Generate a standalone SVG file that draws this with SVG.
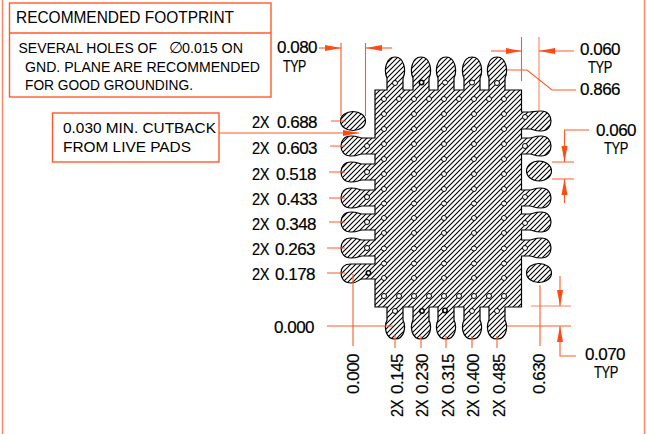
<svg xmlns="http://www.w3.org/2000/svg" width="648" height="434" viewBox="0 0 648 434">
<style>
text{font-family:"Liberation Sans",Arial,sans-serif;fill:#000}
.d{font-size:17px;letter-spacing:-.5px;stroke:#000;stroke-width:.2}
.b{font-size:15px}
.o{fill:none;stroke:#ff5a2a;stroke-width:1.1}
.box{fill:none;stroke:#ff5a2a;stroke-width:1.4}
.h{fill:#fff;stroke:#000;stroke-width:1}
.k{fill:#fff;stroke:#000;stroke-width:1.6}
.p{fill:url(#hatch);stroke:#000;stroke-width:1.2}
</style>
<defs>
<pattern id="hatch" patternUnits="userSpaceOnUse" width="5" height="5">
<rect width="5" height="5" fill="#fff"/><path d="M-1 6L6 -1M-1 1L1 -1M4 6L6 4" fill="none" stroke="#000" stroke-width="1.1"/>
</pattern>
<marker id="a" markerUnits="userSpaceOnUse" markerWidth="17" markerHeight="8" refX="16" refY="4" orient="auto"><path d="M0 1 L16 4 L0 7Z" fill="#ff4a14"/></marker>
</defs>
<g id="frame"><path d="M2.5 0V434M644.5 0V434" fill="none" stroke="#ff8a66" stroke-width="1.5"/></g>
<g id="note-footprint">
<rect class="box" x="9.5" y="3" width="261.5" height="94"/><path class="box" d="M9.5 33H271"/>
<text x="16" y="23" font-size="16" textLength="218" lengthAdjust="spacingAndGlyphs">RECOMMENDED FOOTPRINT</text>
<text class="b" x="18.5" y="53" textLength="138.5" lengthAdjust="spacingAndGlyphs">SEVERAL HOLES OF</text>
<text class="b" y="53"><tspan x="169" style="font-family:'DejaVu Sans',sans-serif" font-size="16">∅</tspan><tspan x="182" textLength="61" lengthAdjust="spacingAndGlyphs">0.015 ON</tspan></text>
<text class="b" x="25" y="72" textLength="235" lengthAdjust="spacingAndGlyphs">GND. PLANE ARE RECOMMENDED</text>
<text class="b" x="25" y="90" textLength="168" lengthAdjust="spacingAndGlyphs">FOR GOOD GROUNDING.</text>
</g>
<g id="note-cutback">
<rect class="box" x="52.5" y="113" width="166.5" height="49"/>
<text class="b" x="63" y="133" font-size="15.5" textLength="153" lengthAdjust="spacingAndGlyphs">0.030 MIN. CUTBACK</text>
<text class="b" x="63" y="152" font-size="15.5" textLength="128" lengthAdjust="spacingAndGlyphs">FROM LIVE PADS</text>
</g>
<g id="footprint">
<path class="p" d="M375 90
H387V78C384 72 385 57 395 57C405 57 406 72 403 78V90
H413V78C410 72 411 57 421 57C431 57 432 72 429 78V90
H438V78C435 72 436 57 446 57C456 57 457 72 454 78V90
H464V78C461 72 462 57 472 57C482 57 483 72 480 78V90
H489V78C486 72 487 57 497 57C507 57 508 72 505 78V90
H521.5
V112H530C533 112 534 111 541 111C548 111 551 116 551 121C551 126 548 131 541 131C534 131 533 129 530 129H521.5
V138H530C533 138 534 136 541 136C548 136 551 141 551 146C551 151 548 156 541 156C534 156 533 154 530 154H521.5
V190H530C533 190 534 188 541 188C548 188 551 193 551 198C551 203 548 208 541 208C534 208 533 206 530 206H521.5
V214H530C533 214 534 212 541 212C548 212 551 217 551 222C551 227 548 232 541 232C534 232 533 230 530 230H521.5
V240H530C533 240 534 238 541 238C548 238 551 243 551 248C551 253 548 258 541 258C534 258 533 256 530 256H521.5
V307
H505V320C508 326 507 339 497 339C487 339 486 326 489 320V307
H480V320C483 326 482 339 472 339C462 339 461 326 464 320V307
H454V320C457 326 456 339 446 339C436 339 435 326 438 320V307
H429V320C432 326 431 339 421 339C411 339 410 326 413 320V307
H403V320C406 326 405 339 395 339C385 339 384 326 387 320V307
H375
V279H362C359 279 358 283 351 283C344 283 341 278 341 273C341 268 344 264 351 264C358 264 359 264 362 264H375
V256H362C359 256 358 258 351 258C344 258 341 253 341 248C341 243 344 238 351 238C358 238 359 240 362 240H375
V230H362C359 230 358 232 351 232C344 232 341 227 341 222C341 217 344 212 351 212C358 212 359 214 362 214H375
V206H362C359 206 358 208 351 208C344 208 341 203 341 198C341 193 344 188 351 188C358 188 359 190 362 190H375
V180H362C359 180 358 182 351 182C344 182 341 177 341 172C341 167 344 162 351 162C358 162 359 164 362 164H375
V154H362C359 154 358 156 351 156C344 156 341 151 341 146C341 141 344 136 351 136C358 136 359 138 362 138H375Z"/>
<ellipse class="p" cx="353" cy="121" rx="12.5" ry="9.5"/>
<ellipse class="p" cx="539" cy="171" rx="12.5" ry="10" stroke-width="1.6"/>
<ellipse class="p" cx="539" cy="273" rx="12.5" ry="9.5" stroke-width="1.6"/>
</g>
<g id="holes">
<g class="h">
<circle cx="384" cy="99" r="2.5"/><circle cx="399" cy="99" r="2.5"/><circle cx="414" cy="99" r="2.5"/><circle cx="429" cy="99" r="2.5"/><circle cx="444" cy="99" r="2.5"/><circle cx="459" cy="99" r="2.5"/><circle cx="474" cy="99" r="2.5"/><circle cx="489" cy="99" r="2.5"/><circle cx="504" cy="99" r="2.5"/>
<circle cx="384" cy="296" r="2.5"/><circle cx="399" cy="296" r="2.5"/><circle cx="414" cy="296" r="2.5"/><circle cx="429" cy="296" r="2.5"/><circle cx="444" cy="296" r="2.5"/><circle cx="459" cy="296" r="2.5"/><circle cx="474" cy="296" r="2.5"/><circle cx="489" cy="296" r="2.5"/><circle cx="504" cy="296" r="2.5"/>
<circle cx="384" cy="114" r="2.5"/><circle cx="414" cy="114" r="2.5"/><circle cx="444" cy="114" r="2.5"/><circle cx="474" cy="114" r="2.5"/><circle cx="504" cy="114" r="2.5"/>
<circle cx="384" cy="129" r="2.5"/><circle cx="414" cy="129" r="2.5"/><circle cx="444" cy="129" r="2.5"/><circle cx="474" cy="129" r="2.5"/><circle cx="504" cy="129" r="2.5"/>
<circle cx="384" cy="144" r="2.5"/><circle cx="414" cy="144" r="2.5"/><circle cx="444" cy="144" r="2.5"/><circle cx="474" cy="144" r="2.5"/><circle cx="504" cy="144" r="2.5"/>
<circle cx="384" cy="159" r="2.5"/><circle cx="414" cy="159" r="2.5"/><circle cx="444" cy="159" r="2.5"/><circle cx="474" cy="159" r="2.5"/><circle cx="504" cy="159" r="2.5"/>
<circle cx="384" cy="174" r="2.5"/><circle cx="414" cy="174" r="2.5"/><circle cx="444" cy="174" r="2.5"/><circle cx="474" cy="174" r="2.5"/><circle cx="504" cy="174" r="2.5"/>
<circle cx="384" cy="189" r="2.5"/><circle cx="414" cy="189" r="2.5"/><circle cx="444" cy="189" r="2.5"/><circle cx="474" cy="189" r="2.5"/><circle cx="504" cy="189" r="2.5"/>
<circle cx="384" cy="203.5" r="2.5"/><circle cx="414" cy="203.5" r="2.5"/><circle cx="444" cy="203.5" r="2.5"/><circle cx="474" cy="203.5" r="2.5"/><circle cx="504" cy="203.5" r="2.5"/>
<circle cx="384" cy="218" r="2.5"/><circle cx="414" cy="218" r="2.5"/><circle cx="444" cy="218" r="2.5"/><circle cx="474" cy="218" r="2.5"/><circle cx="504" cy="218" r="2.5"/>
<circle cx="384" cy="233" r="2.5"/><circle cx="414" cy="233" r="2.5"/><circle cx="444" cy="233" r="2.5"/><circle cx="474" cy="233" r="2.5"/><circle cx="504" cy="233" r="2.5"/>
<circle cx="384" cy="248.5" r="2.5"/><circle cx="414" cy="248.5" r="2.5"/><circle cx="444" cy="248.5" r="2.5"/><circle cx="474" cy="248.5" r="2.5"/><circle cx="504" cy="248.5" r="2.5"/>
<circle cx="384" cy="263.5" r="2.5"/><circle cx="414" cy="263.5" r="2.5"/><circle cx="444" cy="263.5" r="2.5"/><circle cx="474" cy="263.5" r="2.5"/><circle cx="504" cy="263.5" r="2.5"/>
<circle cx="384" cy="278" r="2.5"/><circle cx="414" cy="278" r="2.5"/><circle cx="444" cy="278" r="2.5"/><circle cx="474" cy="278" r="2.5"/><circle cx="504" cy="278" r="2.5"/>
<circle cx="367" cy="146" r="2.5"/><circle cx="367" cy="172" r="2.5"/><circle cx="367" cy="197" r="2.5"/><circle cx="367" cy="222" r="2.5"/><circle cx="367" cy="248" r="2.5"/>
<circle cx="525" cy="117" r="2.5"/><circle cx="525" cy="146" r="2.5"/><circle cx="525" cy="197" r="2.5"/><circle cx="525" cy="223" r="2.5"/><circle cx="525" cy="248" r="2.5"/>
<circle cx="395" cy="83" r="2.5"/><circle cx="445" cy="82.5" r="2.5"/><circle cx="472" cy="82.5" r="2.5"/><circle cx="497" cy="83" r="2.5"/>
<circle cx="395" cy="311" r="2.5"/><circle cx="472" cy="311" r="2.5"/><circle cx="497" cy="311" r="2.5"/>
</g>
<g class="k"><circle cx="368.500" cy="273" r="2.2"/><circle cx="421.500" cy="82.500" r="2.2"/><circle cx="422" cy="311" r="2.2"/><circle cx="445" cy="310.500" r="2.200"/></g>
</g>
<g id="connectors">
<path class="o" d="M319 48H341" marker-end="url(#a)"/>
<path class="o" d="M392 48H366" marker-end="url(#a)"/>
<path class="o" d="M341 43V116M365.500 43V116"/>
<path class="o" d="M491 51H521.500" marker-end="url(#a)"/>
<path class="o" d="M574 51H539" marker-end="url(#a)"/>
<path class="o" d="M521.500 37V81"/>
<path class="o" d="M539 37V112" stroke-opacity=".75" stroke-width="1.500"/>
<path class="o" d="M507 70H527L552 90H576"/>
<path class="o" d="M219 133H359" marker-end="url(#a)"/>
<path class="o" d="M589 130H564.500V162" marker-end="url(#a)"/>
<path class="o" d="M564.500 203V179" marker-end="url(#a)"/>
<path class="o" d="M552 162H574M552 179H574"/>
<path class="o" d="M560 276V306" marker-end="url(#a)"/>
<path class="o" d="M576 356L560 356V326" marker-end="url(#a)"/>
<path class="o" d="M531 306H571" stroke-opacity=".75" stroke-width="1.500"/>
<path class="o" d="M507 326H571"/>
<path class="o" d="M540 285V346"/>
<path class="o" d="M327 326H393M353 274V346"/>
<path class="o" d="M395 335V348M421 336V348M446 336V348M472 336V348M497 336V348"/>
<path class="o" d="M331 121H346M330 146H345M329 172H345M329 198H345M329 222H345M327 248H345M327 273H345"/>
</g>
<g id="dimensions" class="d">
<text x="277" y="53">0.080</text><text x="283" y="72" textLength="23" lengthAdjust="spacingAndGlyphs">TYP</text>
<text x="580" y="55">0.060</text><text x="588" y="73" textLength="24" lengthAdjust="spacingAndGlyphs">TYP</text>
<text x="580" y="95">0.866</text>
<text x="596" y="136">0.060</text><text x="604" y="154" textLength="24" lengthAdjust="spacingAndGlyphs">TYP</text>
<text x="585" y="360">0.070</text><text x="594" y="378" textLength="24" lengthAdjust="spacingAndGlyphs">TYP</text>
<text x="274" y="333">0.000</text>
<text y="128"><tspan x="252" textLength="17" lengthAdjust="spacingAndGlyphs">2X</tspan><tspan x="277">0.688</tspan></text>
<text y="154"><tspan x="252" textLength="17" lengthAdjust="spacingAndGlyphs">2X</tspan><tspan x="277">0.603</tspan></text>
<text y="179.500"><tspan x="252" textLength="17" lengthAdjust="spacingAndGlyphs">2X</tspan><tspan x="276">0.518</tspan></text>
<text y="204.500"><tspan x="252" textLength="17" lengthAdjust="spacingAndGlyphs">2X</tspan><tspan x="277">0.433</tspan></text>
<text y="230"><tspan x="252" textLength="17" lengthAdjust="spacingAndGlyphs">2X</tspan><tspan x="276">0.348</tspan></text>
<text y="254.500"><tspan x="252" textLength="17" lengthAdjust="spacingAndGlyphs">2X</tspan><tspan x="275">0.263</tspan></text>
<text y="280"><tspan x="252" textLength="17" lengthAdjust="spacingAndGlyphs">2X</tspan><tspan x="275">0.178</tspan></text>
<text transform="translate(359 394) rotate(-90)">0.000</text>
<text transform="translate(403 394) rotate(-90)"><tspan x="-23" textLength="17" lengthAdjust="spacingAndGlyphs">2X</tspan><tspan x="0">0.145</tspan></text>
<text transform="translate(428 394) rotate(-90)"><tspan x="-23" textLength="17" lengthAdjust="spacingAndGlyphs">2X</tspan><tspan x="0">0.230</tspan></text>
<text transform="translate(454 394) rotate(-90)"><tspan x="-23" textLength="17" lengthAdjust="spacingAndGlyphs">2X</tspan><tspan x="0">0.315</tspan></text>
<text transform="translate(479 394) rotate(-90)"><tspan x="-23" textLength="17" lengthAdjust="spacingAndGlyphs">2X</tspan><tspan x="0">0.400</tspan></text>
<text transform="translate(505 394) rotate(-90)"><tspan x="-23" textLength="17" lengthAdjust="spacingAndGlyphs">2X</tspan><tspan x="0">0.485</tspan></text>
<text transform="translate(545 394) rotate(-90)">0.630</text>
</g>
</svg>
